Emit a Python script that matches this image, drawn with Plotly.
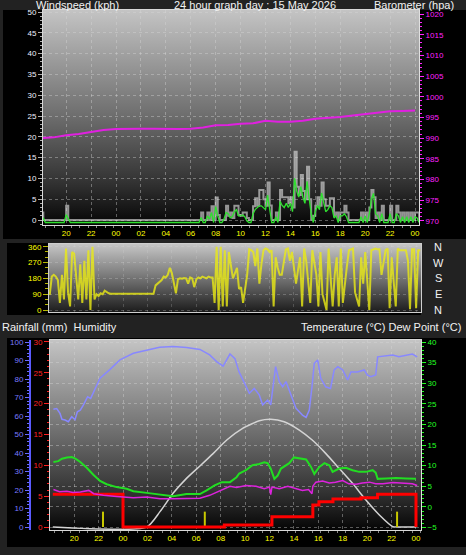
import base64
import plotly.graph_objects as go

FONT = "Liberation Sans, Arial, sans-serif"

# ---------------- data ----------------
tick_hours = [-4, -2, 0, 2, 4, 6, 8, 10, 12, 14, 16, 18, 20, 22, 24]
tick_labels = ["20", "22", "00", "02", "04", "06", "08", "10", "12", "14", "16", "18", "20", "22", "00"]

# hourly barometer (hour 0 = 00:00 of 15 May)
baro_hours = list(range(-6, 25))
baro_hpa = [990.0, 990.2, 990.7, 991.0, 991.5, 992.0, 992.2, 992.3, 992.3, 992.3,
            992.2, 992.2, 992.3, 992.6, 993.1, 993.2, 993.5, 993.6, 994.2, 994.0,
            994.0, 994.2, 994.7, 994.9, 995.1, 995.5, 995.8, 996.1, 996.5, 996.6, 996.7]

# 10-minute samples starting 18:00 (hour -6), one row per hour
wind_gust_kph = [
    1.8, 0, 0, 0, 0, 0,
    0, 0, 0, 0, 0, 0,
    3.4, 0, 0, 0, 0, 0,
    0, 0, 0, 0, 0, 0,
    0, 0, 0, 0, 0, 0,
    0, 0, 0, 0, 0, 0,
    0, 0, 0, 0, 0, 0,
    0, 0, 0, 0, 0, 0,
    0, 0, 0, 0, 0, 0,
    0, 0, 0, 0, 0, 0,
    0, 0, 0, 0, 0, 0,
    0, 0, 0, 0, 0, 0,
    0, 0, 0, 0, 0, 1.8,
    0, 0, 1.8, 0, 3.3, 0,
    5.4, 1.2, 0, 0, 0, 3.4,
    1.0, 1.8, 0.5, 3.4, 3.4, 1.2,
    1.0, 1.8, 1.8, 0.5, 0, 0,
    3.3, 5.2, 3.4, 7.2, 7.2, 5.0,
    3.4, 9.0, 3.5, 0, 0, 1.8,
    0, 7.2, 5.5, 5.5, 5.5, 4.0,
    5.5, 3.0, 16.4, 8.0, 6.0, 10.8,
    7.0, 5.0, 12.8, 5.0, 0, 1.0,
    3.4, 5.5, 3.4, 9.0, 5.0, 3.4,
    3.4, 5.2, 5.2, 1.0, 1.8, 0,
    1.8, 1.8, 3.4, 1.8, 0, 0,
    0, 0, 0, 0, 1.8, 0,
    1.8, 0, 3.0, 7.2, 5.5, 0.5,
    1.8, 0, 3.4, 0, 0, 0,
    3.4, 0, 0, 3.4, 1.8, 0,
    1.8, 0, 1.8, 0, 1.8, 0,
    1.8, 1.8, 0,
]

wind_avg_kph = [
    1.0, 0.4, -0.6, -0.6, -0.6, -0.6,
    -0.6, -0.6, -0.6, -0.6, -0.6, -0.6,
    1.3, 0.3, -0.6, -0.6, -0.6, -0.6,
    -0.6, -0.6, -0.6, -0.6, -0.6, -0.6,
    -0.6, -0.6, -0.6, -0.6, -0.6, -0.6,
    -0.6, -0.6, -0.6, -0.6, -0.6, -0.6,
    -0.6, -0.6, -0.6, -0.6, -0.6, -0.6,
    -0.6, -0.6, -0.6, -0.6, -0.6, -0.6,
    -0.6, -0.6, -0.6, -0.6, -0.6, -0.6,
    -0.6, -0.6, -0.6, -0.6, -0.6, -0.6,
    -0.6, -0.6, -0.6, -0.6, -0.6, -0.6,
    -0.6, -0.6, -0.6, -0.6, -0.6, -0.6,
    -0.6, -0.6, -0.6, -0.6, -0.6, 0.6,
    -0.6, -0.6, 1.0, 0.2, 1.8, -0.6,
    3.2, 1.0, -0.6, -0.6, 0.2, 1.8,
    1.5, 0.5, 0.8, 2.0, 2.5, 1.0,
    1.0, 1.2, 0.8, -0.2, -0.6, -0.6,
    1.5, 2.5, 3.0, 3.4, 3.4, 3.0,
    2.5, 6.0, 2.0, -0.6, -0.6, 0.8,
    -0.6, 4.5, 3.5, 3.0, 4.0, 3.0,
    4.0, 2.0, 10.0, 7.0, 5.5, 8.0,
    5.5, 4.0, 9.3, 5.0, 1.5, -0.6,
    2.0, 3.5, 2.5, 6.5, 4.0, 2.0,
    2.5, 3.4, 3.0, 0.5, 1.0, -0.6,
    1.0, 1.0, 1.5, 0.8, -0.6, -0.6,
    -0.6, -0.6, -0.6, -0.6, 0.8, -0.6,
    1.0, -0.6, 1.5, 5.0, 6.4, 1.5,
    1.0, -0.6, 1.5, -0.6, -0.6, -0.6,
    1.5, -0.6, -0.6, 1.5, 1.0, -0.6,
    0.8, -0.6, 0.8, -0.6, 0.8, -0.6,
    0.8, 0.5, -0.6,
]

wind_dir_deg = [
    86, 190, 200, 190, 170, 40,
    200, 60, 350, 100, 20, 330,
    320, 180, 60, 260, 40, 280,
    60, 340, 0, 360, 60, 90,
    80, 95, 90, 110, 100, 95,
    93, 93, 93, 93, 93, 93,
    93, 93, 93, 93, 93, 93,
    93, 93, 93, 93, 93, 93,
    93, 93, 93, 93, 140, 150,
    160, 170, 190, 185, 200, 240,
    210, 150, 95, 175, 180, 178,
    182, 180, 150, 185, 180, 130,
    175, 185, 180, 190, 185, 180,
    190, 185, 185, 40, 360, 0,
    360, 20, 340, 20, 330, 250,
    180, 210, 240, 120, 130, 40,
    120, 200, 345, 340, 330, 250,
    350, 150, 260, 340, 350, 345,
    330, 340, 20, 300, 240, 200,
    200, 270, 345, 350, 280, 330,
    240, 150, 230, 300, 20, 350,
    280, 160, 40, 340, 270, 200,
    20, 330, 90, 40, 0, 350,
    180, 20, 200, 300, 20, 350,
    40, 160, 250, 340, 345, 350,
    100, 60, 20, 300, 150, 330,
    160, 0, 340, 345, 350, 345,
    345, 200, 280, 340, 350, 10,
    300, 160, 20, 350, 340, 340,
    340, 340, 280, 5, 345, 345,
    10, 340, 340,
]

hum_t = [-5.7, -5.43, -5.16, -5.0, -4.75, -4.48, -4.2, -3.93, -3.74, -3.5,
         -3.25, -2.9, -2.65, -2.3, -1.88, -1.06, -0.25, 0.85, 1.94, 3.0,
         4.1, 5.2, 6.3, 7.1, 7.67, 8.2, 8.76, 9.17, 9.5, 9.9,
         10.35, 10.75, 11.16, 11.44, 11.85, 12.1, 12.34, 12.5, 12.8, 13.08,
         13.35, 13.6, 13.9, 14.17, 14.44, 14.7, 15.0, 15.26, 15.48, 15.67,
         15.95, 16.2, 16.6, 17.0, 17.3, 17.6, 18.0, 18.4, 18.67, 19.2,
         19.76, 20.0, 20.3, 20.7, 20.86, 21.27, 22.09, 22.6, 23.2, 23.7, 24.1]
hum_pct = [63.6, 64.0, 61.4, 58.2, 57.8, 56.9, 59.6, 58.0, 62.3, 63.2,
           65.9, 70.4, 69.5, 74.9, 80.4, 85.2, 90.3, 93.9, 95.7, 97.1,
           97.5, 97.0, 96.0, 93.0, 89.4, 87.0, 93.5, 91.0, 84.0, 78.6,
           72.3, 74.9, 71.4, 66.0, 68.6, 66.0, 80.4, 86.7, 78.6, 75.8,
           78.6, 74.0, 68.6, 64.2, 62.3, 60.5, 59.3, 63.2, 75.8, 88.5,
           90.3, 80.4, 75.8, 74.9, 84.9, 86.7, 84.9, 79.5, 83.8, 83.8,
           84.9, 82.2, 81.3, 82.2, 92.0, 92.4, 93.0, 92.0, 93.0, 93.5, 92.0]

temp_t = [-5.7, -5.3, -5.0, -4.6, -4.2, -3.9, -3.5, -2.97, -2.43, -1.88,
          -1.34, -0.52, 0.3, 0.85, 1.94, 3.03, 4.1, 5.2, 6.3, 6.85,
          7.5, 8.1, 8.76, 9.3, 9.52, 10.07, 10.6, 11.16, 11.57, 11.85,
          12.1, 12.4, 12.67, 12.94, 13.35, 13.62, 14.0, 14.44, 15.0, 15.4,
          15.67, 16.08, 16.5, 16.9, 17.17, 17.7, 18.26, 18.8, 19.35, 19.9,
          20.45, 20.7, 20.86, 21.54, 22.36, 23.2, 24.0]
temp_c = [10.9, 11.1, 11.7, 12.0, 12.1, 11.7, 10.9, 9.5, 7.8, 6.3,
          5.5, 4.8, 4.4, 3.8, 3.4, 3.0, 2.6, 3.1, 3.1, 4.0,
          5.2, 6.0, 6.0, 7.2, 8.1, 8.9, 10.1, 10.4, 10.8, 10.6,
          9.3, 6.8, 7.6, 9.3, 10.1, 10.6, 12.0, 11.7, 11.5, 9.7,
          8.0, 9.7, 10.6, 10.1, 8.5, 9.3, 9.5, 8.9, 8.5, 8.5,
          8.9, 8.3, 6.8, 6.9, 7.0, 6.9, 6.8]

dew_t = [-5.7, -5.2, -4.6, -4.1, -3.5, -2.8, -2.4, -1.6, -0.52, 0.85,
         1.94, 3.03, 4.1, 5.2, 6.3, 7.1, 7.9, 8.76, 9.3, 10.07,
         10.9, 11.57, 12.0, 12.1, 12.2, 12.8, 13.5, 13.9, 14.7, 15.2,
         15.48, 15.55, 15.8, 16.35, 16.9, 17.4, 18.0, 18.5, 19.1, 19.6,
         20.2, 20.7, 21.3, 22.1, 22.9, 23.7, 24.1]
dew_c = [4.2, 3.7, 3.8, 3.5, 3.6, 4.0, 3.2, 2.8, 2.5, 2.2,
         2.4, 2.0, 2.0, 2.1, 2.1, 2.8, 3.8, 5.0, 4.7, 5.2,
         5.0, 4.4, 4.8, 3.0, 4.8, 4.4, 5.0, 4.7, 4.0, 4.2,
         3.2, 5.0, 6.0, 6.3, 5.8, 6.0, 6.4, 5.6, 5.5, 5.8,
         6.0, 5.6, 5.6, 5.9, 5.8, 5.6, 5.2]

rain_t = [-5.75, 0.0, 8.3, 12.2, 15.55, 16.05, 17.2, 19.5, 20.85, 24.0]
rain_mm = [5.3, 0.0, 0.32, 1.67, 3.57, 4.1, 4.54, 4.75, 5.3, 0.0]

sun_t = [-5.75, 1.94, 3.03, 4.1, 5.2, 6.3, 7.4, 8.5, 9.8, 11.16, 12.1,
         13.2, 14.44, 15.5, 16.6, 17.7, 18.8, 19.9, 21.0, 22.1, 22.6, 24.0]
sun_level = [0, 0, 8.3, 18.2, 26.3, 33.0, 39.8, 47.0, 53.3, 57.4, 58.2,
             56.9, 52.4, 47.0, 39.8, 31.7, 23.6, 14.6, 6.5, 0.2, 0, 0]

marker_t = [-1.64, 6.7, 22.45]
marker_h = [8.3, 8.3, 8.3]

compass_labels = ["N", "W", "S", "E", "N"]
compass_deg = [360, 270, 180, 90, 0]

# ---------------- helpers ----------------
wind_t = [-6 + i / 6 for i in range(len(wind_gust_kph))]

mk_x, mk_y = [], []
for t, h in zip(marker_t, marker_h):
    mk_x += [t, t, None]
    mk_y += [0, h, None]


def grad(stops):
    st = "".join(f'<stop offset="{o}" stop-color="{c}"/>' for o, c in stops)
    svg = ('<svg xmlns="http://www.w3.org/2000/svg" width="10" height="100" '
           'viewBox="0 0 10 100" preserveAspectRatio="none"><defs>'
           '<linearGradient id="g" x1="0" y1="0" x2="0" y2="1">' + st +
           '</linearGradient></defs><rect width="10" height="100" fill="url(#g)"/></svg>')
    return "data:image/svg+xml;base64," + base64.b64encode(svg.encode()).decode()


W, H = 466, 555


def px(x):
    return x / W


def py(y):
    return 1 - y / H


fig = go.Figure()

# top panel
fig.add_trace(go.Scatter(x=wind_t, y=wind_gust_kph, xaxis="x", yaxis="y", mode="lines",
                         line=dict(color="rgba(228,228,228,0.62)", width=2, shape="hv"),
                         hoverinfo="skip"))
fig.add_trace(go.Scatter(x=wind_t, y=wind_avg_kph, xaxis="x", yaxis="y", mode="lines",
                         line=dict(color="#2fe02f", width=1.3), hoverinfo="skip"))
fig.add_trace(go.Scatter(x=baro_hours, y=baro_hpa, xaxis="x", yaxis="y2", mode="lines",
                         line=dict(color="#e020e0", width=2), hoverinfo="skip"))
# wind direction panel
fig.add_trace(go.Scatter(x=wind_t, y=wind_dir_deg, xaxis="x2", yaxis="y3", mode="lines",
                         line=dict(color="rgba(235,235,20,0.8)", width=2), hoverinfo="skip"))
# bottom panel
fig.add_trace(go.Scatter(x=sun_t, y=sun_level, xaxis="x3", yaxis="y4", mode="lines",
                         line=dict(color="#d4d4d4", width=1.5, shape="spline", smoothing=0.6),
                         hoverinfo="skip"))
fig.add_trace(go.Scatter(x=hum_t, y=hum_pct, xaxis="x3", yaxis="y4", mode="lines",
                         line=dict(color="#8888ff", width=1.5), hoverinfo="skip"))
fig.add_trace(go.Scatter(x=mk_x, y=mk_y, xaxis="x3", yaxis="y4", mode="lines",
                         line=dict(color="#c8c800", width=2), hoverinfo="skip"))
fig.add_trace(go.Scatter(x=rain_t, y=rain_mm, xaxis="x3", yaxis="y5", mode="lines",
                         line=dict(color="#ff0000", width=3, shape="hv"), hoverinfo="skip"))
fig.add_trace(go.Scatter(x=temp_t, y=temp_c, xaxis="x3", yaxis="y6", mode="lines",
                         line=dict(color="#22dd22", width=2), hoverinfo="skip"))
fig.add_trace(go.Scatter(x=dew_t, y=dew_c, xaxis="x3", yaxis="y6", mode="lines",
                         line=dict(color="#dd22dd", width=1.5), hoverinfo="skip"))

tf = dict(family=FONT, size=8)
grid = dict(showgrid=True, gridcolor="rgba(215,215,215,0.4)", griddash="dot", gridwidth=1)
xminor = dict(ticks="outside", ticklen=2, tickcolor="#8a8a8a", dtick=0.682, tick0=-5.65, showgrid=False)

layout = dict(
    width=W, height=H, margin=dict(l=0, r=0, t=0, b=0, autoexpand=False),
    paper_bgcolor="#222222", plot_bgcolor="rgba(0,0,0,0)", showlegend=False,
    hovermode=False, dragmode=False,
    xaxis=dict(domain=[px(43), px(419)], range=[-5.86, 24.32], anchor="y", automargin=False,
               tickvals=tick_hours, ticktext=tick_labels, tickfont=dict(tf, color="#ffff00"),
               ticks="", showline=True, linecolor="#d8d8d8", mirror=True, zeroline=False,
               minor=xminor, **grid),
    yaxis=dict(domain=[py(225), py(10)], range=[-1.2, 50.48], anchor="x", dtick=5, tick0=0,
               automargin=False,
               tickfont=dict(tf, color="#eef0ff"), ticks="outside", ticklen=4, tickcolor="#b0b0b0",
               showline=True, linecolor="#d8d8d8", zeroline=False,
               minor=dict(ticks="outside", ticklen=2, tickcolor="#b0b0b0", dtick=1, showgrid=False),
               **grid),
    yaxis2=dict(overlaying="y", side="right", anchor="x", range=[969.03, 1020.97], dtick=5, tick0=970,
                automargin=False,
                tickfont=dict(tf, color="#ff22ff"), ticks="outside", ticklen=4, tickcolor="#ff22ff",
                showgrid=False, zeroline=False, showline=True, linecolor="#e0e0e0",
                minor=dict(ticks="outside", ticklen=2, tickcolor="#ff22ff", dtick=1)),
    xaxis2=dict(domain=[px(49), px(421)], range=[-6.06, 24.4], anchor="y3", automargin=False,
                tickvals=tick_hours, showticklabels=False, ticks="", showline=True,
                linecolor="#cfcfcf", mirror=True, zeroline=False,
                showgrid=True, gridcolor="rgba(215,215,215,0.22)", griddash="dot"),
    yaxis3=dict(domain=[py(312), py(244)], range=[-11.4, 375.4], anchor="x2", automargin=False,
                tickvals=compass_deg[::-1], tickfont=dict(tf, color="#ffff00"),
                ticks="outside", ticklen=5, tickcolor="#b8b800", zeroline=False,
                showline=True, linecolor="#cfcfcf", mirror=True,
                showgrid=True, gridcolor="rgba(215,215,215,0.28)", griddash="dot",
                minor=dict(ticks="outside", ticklen=3, tickcolor="#b8b800", dtick=30, showgrid=False)),
    xaxis3=dict(domain=[px(50), px(421)], range=[-5.98, 24.41], anchor="y4", automargin=False,
                tickvals=tick_hours, ticktext=tick_labels, tickfont=dict(tf, color="#ffff00"),
                ticks="", showline=True, linecolor="#d8d8d8", mirror=True, zeroline=False,
                minor=xminor, **grid),
    yaxis4=dict(domain=[py(530), py(340)], range=[-1.62, 101.08], anchor="free", position=px(30),
                automargin=False,
                side="left", dtick=10, tick0=0, tickfont=dict(tf, color="#7a7aff"),
                ticks="outside", ticklen=4, tickcolor="#6a6aff", showline=True,
                linecolor="#5a5aff", linewidth=2, showgrid=False, zeroline=False,
                minor=dict(ticks="outside", ticklen=2, tickcolor="#6a6aff", dtick=2)),
    yaxis5=dict(overlaying="y4", anchor="x3", side="left", range=[-0.486, 30.32], dtick=5, tick0=0,
                automargin=False,
                tickfont=dict(tf, color="#ff2020"), ticks="outside", ticklen=5, tickcolor="#ff2020",
                showgrid=False, zeroline=False, showline=True, linecolor="#d8d8d8",
                minor=dict(ticks="outside", ticklen=2, tickcolor="#ff2020", dtick=1)),
    yaxis6=dict(overlaying="y4", anchor="x3", side="right", range=[-5.61, 40.49], dtick=5, tick0=0,
                automargin=False,
                tickfont=dict(tf, color="#22ff22"), ticks="outside", ticklen=4, tickcolor="#22ff22",
                zeroline=False, showline=True, linecolor="#e0e0e0",
                minor=dict(ticks="outside", ticklen=2, tickcolor="#22ff22", dtick=1, showgrid=False),
                **grid),
)
fig.update_layout(**layout)

# black panel frames
frames = [(3, 466, 10, 239), (7, 421, 243, 315), (7, 466, 338, 547)]
for x0, x1, y0, y1 in frames:
    fig.add_shape(type="rect", xref="paper", yref="paper", x0=px(x0), x1=px(x1),
                  y0=py(y1), y1=py(y0), fillcolor="#000000", line=dict(width=0), layer="below")

# gradient plot backgrounds
g_main = grad([(0, "#c4c4c4"), (0.5, "#6c6c6c"), (0.8, "#333333"), (1, "#050505")])
g_dir = grad([(0, "#c6c6c6"), (0.5, "#747474"), (1, "#1c1c1c")])
for xr, yr, src in [("x domain", "y domain", g_main), ("x2 domain", "y3 domain", g_dir),
                    ("x3 domain", "y4 domain", g_main)]:
    fig.add_layout_image(source=src, xref=xr, yref=yr, x=0, y=1, sizex=1, sizey=1,
                         xanchor="left", yanchor="top", sizing="stretch", layer="below")

white = dict(family=FONT, size=11, color="#f2f2f2")
titles = [("Windspeed (kph)", 34, 5, "left"),
          ("24 hour graph day : 15 May 2026", 172, 5, "left"),
          ("Barometer (hpa)", 372, 5, "left"),
          ("Rainfall (mm)  Humidity", 0, 327, "left"),
          ("Temperature (°C) Dew Point (°C)", 463, 327, "right")]
for txt, x, y, anc in titles:
    fig.add_annotation(text=txt, x=px(x), y=py(y), xref="paper", yref="paper",
                       xanchor=anc, yanchor="middle", showarrow=False, font=white)

for lab, deg in zip(compass_labels, compass_deg):
    fig.add_annotation(text=lab, x=px(438), y=deg, xref="paper", yref="y3",
                       xanchor="center", yanchor="middle", showarrow=False, font=white)

fig.write_html("out.html", config={"displayModeBar": False, "staticPlot": True},
               post_script="document.body.style.margin='0';document.body.style.overflow='hidden';")
